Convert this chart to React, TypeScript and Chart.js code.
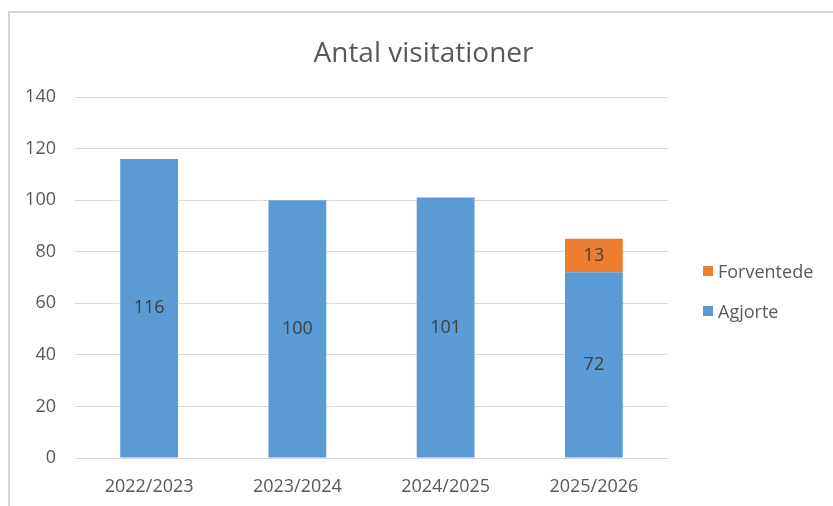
import React, { useEffect, useRef } from "react";
import { Chart, registerables } from "chart.js";

Chart.register(...registerables);

const categories = ["2022/2023", "2023/2024", "2024/2025", "2025/2026"];
const agjorte = [116, 100, 101, 72];
const forventede = [null, null, null, 13];
const yTicks = [0, 20, 40, 60, 80, 100, 120, 140];
const title = "Antal visitationer";
const seriesNames = ["Agjorte", "Forventede"];

const BLUE = "#5B9BD5";
const ORANGE = "#ED7D31";
const FONT = "'Open Sans', 'Noto Sans', sans-serif";

const valueLabels = {
  id: "valueLabels",
  afterDatasetsDraw(chart: any) {
    const ctx = chart.ctx;
    ctx.save();
    ctx.font = `18px ${FONT}`;
    ctx.fillStyle = "#404040";
    ctx.textAlign = "center";
    ctx.textBaseline = "middle";
    chart.data.datasets.forEach((ds: any, di: number) => {
      const meta = chart.getDatasetMeta(di);
      meta.data.forEach((el: any, i: number) => {
        const v = ds.data[i];
        if (v == null) return;
        const cy = (el.y + el.base) / 2;
        ctx.fillText(String(v), el.x, cy);
      });
    });
    ctx.restore();
  },
};

export default function App() {
  const ref = useRef<HTMLCanvasElement | null>(null);
  useEffect(() => {
    if (!ref.current) return;
    const chart = new Chart(ref.current, {
      type: "bar",
      data: {
        labels: categories,
        datasets: [
          {
            label: seriesNames[0],
            data: agjorte,
            backgroundColor: BLUE,
            barPercentage: 0.78,
            categoryPercentage: 0.5,
          },
          {
            label: seriesNames[1],
            data: forventede as any,
            backgroundColor: ORANGE,
            barPercentage: 0.78,
            categoryPercentage: 0.5,
          },
        ],
      },
      options: {
        animation: false,
        responsive: false,
        maintainAspectRatio: false,
        layout: { padding: { top: 97, right: 165, left: 0, bottom: 0 } },
        plugins: {
          legend: { display: false },
          title: { display: false },
          tooltip: { enabled: false },
        },
        scales: {
          x: {
            stacked: true,
            grid: { display: false, drawTicks: false },
            border: { display: true, color: "#d9d9d9", width: 1 },
            ticks: {
              color: "#595959",
              font: { family: FONT, size: 18 },
              padding: 18,
            },
            afterFit(scale: any) {
              scale.height = 48;
            },
          },
          y: {
            stacked: true,
            min: 0,
            max: 140,
            afterBuildTicks(scale: any) {
              scale.ticks = yTicks.map((v) => ({ value: v }));
            },
            grid: { color: "#d9d9d9", lineWidth: 1, drawTicks: false },
            border: { display: false },
            ticks: {
              color: "#595959",
              font: { family: FONT, size: 18 },
              padding: 19,
            },
            afterFit(scale: any) {
              scale.width = 75;
            },
          },
        },
      },
      plugins: [valueLabels],
    });
    return () => chart.destroy();
  }, []);

  const legendItem = (color: string, text: string, top: number) => (
    <div
      style={{
        position: "absolute",
        left: 703,
        top,
        display: "flex",
        alignItems: "center",
        fontFamily: FONT,
        fontSize: 18,
        color: "#595959",
        lineHeight: "20px",
      }}
    >
      <span style={{ display: "inline-block", width: 10, height: 10, background: color, marginRight: 5 }} />
      {text}
    </div>
  );

  return (
    <div style={{ position: "fixed", left: 0, top: 0, width: 833, height: 506, background: "#fff" }}>
      <div
        style={{
          position: "absolute",
          left: 8,
          top: 11,
          right: -10,
          bottom: -10,
          borderTop: "2px solid #d6d6d6",
          borderLeft: "2px solid #d6d6d6",
        }}
      />
      <canvas ref={ref} width={833} height={506} style={{ position: "absolute", left: 0, top: 0 }} />
      <div
        style={{
          position: "absolute",
          left: 0,
          width: 847,
          top: 31,
          textAlign: "center",
          fontFamily: FONT,
          fontSize: 28,
          color: "#595959",
          lineHeight: "40px",
        }}
      >
        {title}
      </div>
      {legendItem(ORANGE, seriesNames[1], 261)}
      {legendItem(BLUE, seriesNames[0], 301)}
    </div>
  );
}
